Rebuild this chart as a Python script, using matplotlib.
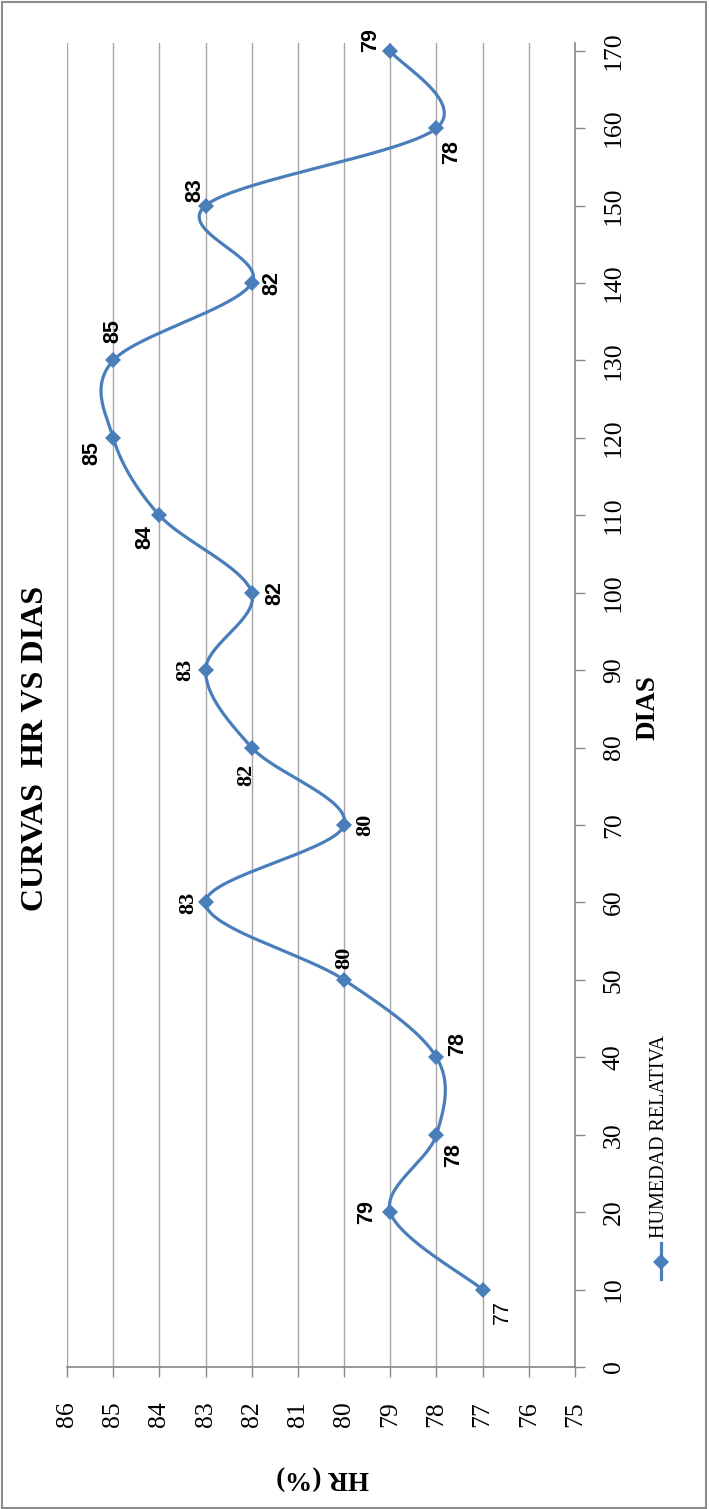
import matplotlib
matplotlib.use('Agg')
import matplotlib.pyplot as plt
from matplotlib.patches import Rectangle
from matplotlib.lines import Line2D
import numpy as np

# humedad relativa medida cada 10 dias
dias = [10, 20, 30, 40, 50, 60, 70, 80, 90, 100, 110, 120, 130, 140, 150, 160, 170]
hr = [77, 79, 78, 78, 80, 83, 80, 82, 83, 82, 84, 85, 85, 82, 83, 78, 79]
hr_ticks = list(range(75, 87))
dias_ticks = list(range(0, 171, 10))

# desplazamiento de cada etiqueta (px, x a la derecha, y hacia abajo) y su letra
lbl_off = [(20, 22), (-24, 0), (17, 20), (21, -13), (0, -22), (-17, 0), (21, 0),
           (-5, 27), (-20, 0), (23, 0), (-14, 22), (-21, 15), (0, -29), (20, 0),
           (-11, -15), (15, 24), (-20, -11)]
lbl_font = ['sans-n', 'sans', 'sans', 'sans', 'serif', 'serif', 'serif', 'serif',
            'serif', 'sans', 'sans', 'sans', 'sans', 'sans', 'sans', 'sans', 'sans']

BLUE = '#4a7ebb'
GRID = '#a6a6a6'
AXIS = '#868686'
SERIF = 'Liberation Serif'
SANS = 'Liberation Sans'

W, H = 709, 1509
fig = plt.figure(figsize=(W / 100, H / 100), dpi=100)
ax = fig.add_axes([67 / W, 1 - 1367 / H, (575 - 67) / W, (1367 - 43) / H])
ax.set_xlim(86, 75)
ax.set_ylim(0, 171)


def excel_smooth(ax, xs, ys, n=40):
    # curva suavizada tipo excel (bezier con puntos de control catmull-rom)
    pts = ax.transData.transform(np.column_stack([xs, ys]))
    p = np.vstack([pts[0], pts, pts[-1]])
    t = np.linspace(0, 1, n)[:, None]
    segs = []
    for i in range(1, len(p) - 2):
        p0, p1, p2, p3 = p[i - 1], p[i], p[i + 1], p[i + 2]
        c1 = p1 + (p2 - p0) / 6
        c2 = p2 - (p3 - p1) / 6
        segs.append((1 - t) ** 3 * p1 + 3 * (1 - t) ** 2 * t * c1
                    + 3 * (1 - t) * t ** 2 * c2 + t ** 3 * p2)
    return ax.transData.inverted().transform(np.vstack(segs))


curve = excel_smooth(ax, hr, dias)
ax.plot(curve[:, 0], curve[:, 1], color=BLUE, lw=2.3, solid_capstyle='round', zorder=3)
ax.plot(hr, dias, ls='none', marker='D', ms=8, mew=0, color=BLUE, zorder=4)

for v, d, (dx, dy), f in zip(hr, dias, lbl_off, lbl_font):
    if f == 'serif':
        kw = dict(family=SERIF, weight='bold', fontsize=16)
    elif f == 'sans':
        kw = dict(family=SANS, weight='bold', fontsize=15.5)
    else:
        kw = dict(family=SANS, fontsize=15.5)
    ax.annotate(str(v), (v, d), xytext=(dx * 0.72, -dy * 0.72),
                textcoords='offset points', rotation=90,
                ha='center', va='center', zorder=5, **kw)

# ejes
ax.xaxis.grid(True, color=GRID, lw=1)
ax.set_axisbelow(True)
for s in ['top', 'left']:
    ax.spines[s].set_visible(False)
for s in ['bottom', 'right']:
    ax.spines[s].set_color(AXIS)
    ax.spines[s].set_linewidth(1.2)
ax.yaxis.tick_right()
ax.set_xticks(hr_ticks)
ax.set_yticks(dias_ticks)
ax.set_xticklabels([str(x) for x in hr_ticks], rotation=90, va='top', ha='center',
                   family=SERIF, fontsize=18.5)
ax.set_yticklabels([str(x) for x in dias_ticks], rotation=90, va='center', ha='left',
                   family=SERIF, fontsize=18.5)
ax.tick_params(axis='x', direction='out', length=7, color=AXIS, width=1, pad=18)
ax.tick_params(axis='y', direction='out', length=7, color=AXIS, width=1, pad=13)

# titulos
fig.text(36 / W, 1 - 748 / H, 'CURVAS  HR VS DIAS', rotation=90, ha='center', va='center',
         family=SERIF, weight='bold', fontsize=23)
fig.text(648 / W, 1 - 708 / H, 'DIAS', rotation=90, ha='center', va='center',
         family=SERIF, weight='bold', fontsize=19.5)
fig.text(323 / W, 1 - 1477 / H, 'HR (%)', rotation=180, ha='center', va='center',
         family=SERIF, weight='bold', fontsize=19.5)

# leyenda
fig.add_artist(Line2D([661 / W, 661 / W], [1 - 1279 / H, 1 - 1243 / H], color=BLUE, lw=2.3,
                      transform=fig.transFigure))
fig.add_artist(Line2D([661 / W], [1 - 1262 / H], ls='none', marker='D', ms=8, mew=0,
                      color=BLUE, transform=fig.transFigure))
fig.text(660 / W, 1 - 1238 / H, 'HUMEDAD RELATIVA', rotation=90, ha='center', va='bottom',
         family=SERIF, fontsize=14.5)

# marco del grafico
fig.patches.append(Rectangle((2 / W, 1 / H), 704 / W, 1506 / H, transform=fig.transFigure,
                             fill=False, ec='#8c8c8c', lw=1.5))

fig.savefig('out.png', dpi=100)
